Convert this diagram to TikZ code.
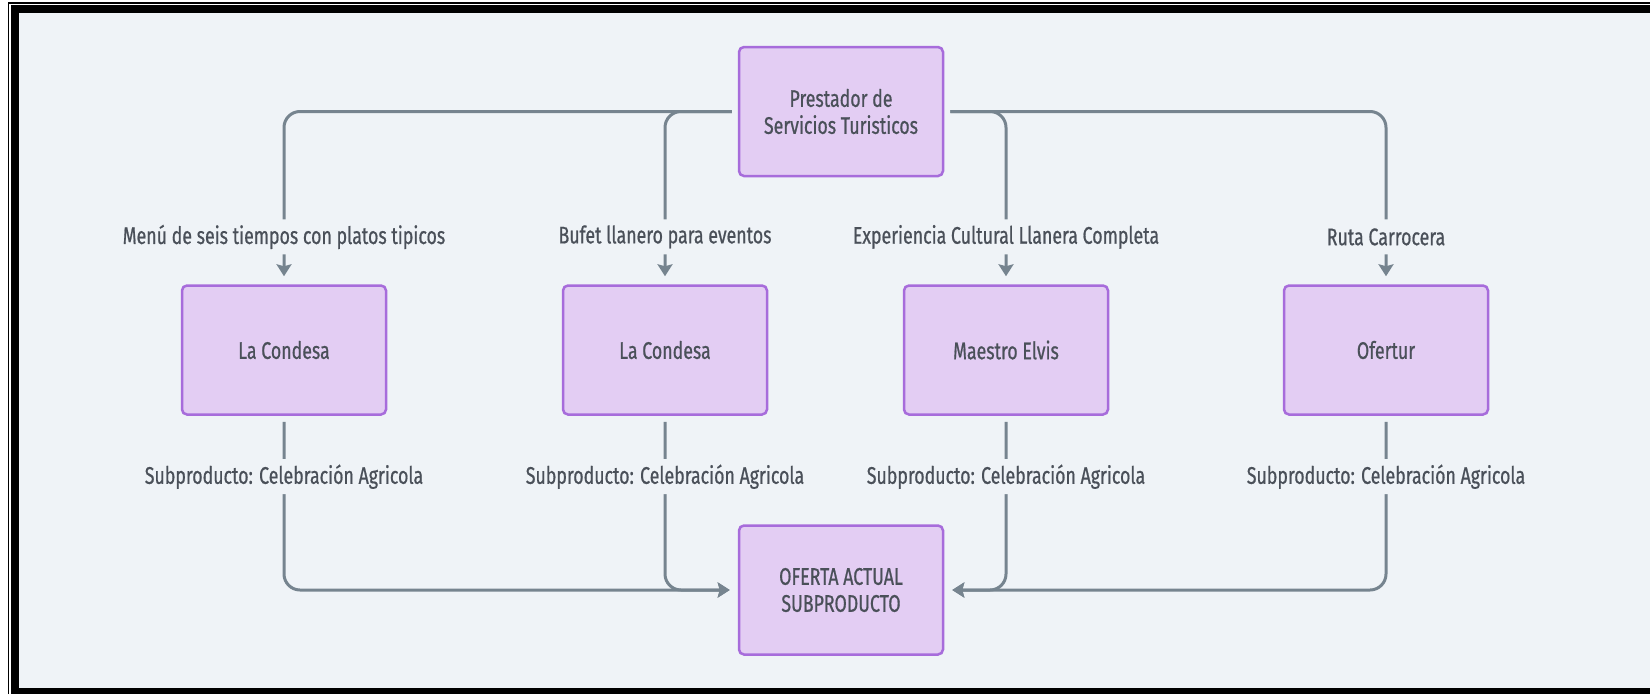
\documentclass[tikz,border=0pt]{standalone}
\usepackage{fontspec}
\setmainfont[FakeStretch=0.74, FakeBold=0.7]{Fira Sans}
\usepackage{xcolor}
\usepackage{tikz}
\usetikzlibrary{arrows.meta, positioning}
\definecolor{canvasbg}{HTML}{EFF3F7}
\definecolor{boxfill}{HTML}{E3CDF3}
\definecolor{boxline}{HTML}{A76CDB}
\definecolor{linkgray}{HTML}{76848F}
\definecolor{textgray}{HTML}{4A5059}

\begin{document}
\begin{tikzpicture}[
  x=1pt, y=-1pt,
  every node/.style={font=\fontsize{24}{27}\selectfont, text=textgray},
  box/.style={
    rectangle, rounded corners=5pt,
    minimum width=204pt, minimum height=129pt,
    align=center, draw=boxline, line width=2.5pt,
    fill=boxfill,
  },
  link/.style={-{Stealth[length=12pt, width=15pt, inset=2pt]},
    line width=3pt, color=linkgray, rounded corners=16pt,
    shorten <=6pt, shorten >=8pt},
  lbl/.style={fill=canvasbg, inner sep=0pt, minimum height=35pt},
]

% frame
\useasboundingbox (0,0) rectangle (1650,694);
\fill[white] (0,0) rectangle (1650,694);
\draw[black, line width=1.5pt] (8.5,694) -- (8.5,3) -- (1650,3);
\fill[black] (11,5) rectangle (1650,694);
\fill[canvasbg] (19,13) rectangle (1650,688);

% Row 1 — provider
\node[box] (prest) at (841,111.5) {Prestador de\\Servicios Turisticos};

% Row 2 — operators
\node[box] (cond1) at (284,350) {La Condesa};
\node[box, right=174.5pt of cond1] (cond2) {La Condesa};
\node[box, right=134.5pt of cond2] (elvis) {Maestro Elvis};
\node[box, right=173.5pt of elvis] (ofertur) {Ofertur};

% Row 3 — offer
\node[box, below=347pt of prest] (oferta) {OFERTA ACTUAL\\SUBPRODUCTO};

% Arrows — provider to operators
\draw[link] (prest.west) -| (cond1.north)
  node[lbl, pos=0.863] {Menú de seis tiempos con platos tipicos};
\draw[link] (prest.west) -| (cond2.north)
  node[lbl, pos=0.863] {Bufet llanero para eventos};
\draw[link] (prest.east) -| (elvis.north)
  node[lbl, pos=0.863] {Experiencia Cultural Llanera Completa};
\draw[link] (prest.east) -| (ofertur.north)
  node[lbl, pos=0.863] {Ruta Carrocera};

% Arrows — operators to offer
\draw[link] (cond1.south) |- (oferta.west)
  node[lbl, pos=0.175] {Subproducto: Celebración Agricola};
\draw[link] (cond2.south) |- (oferta.west)
  node[lbl, pos=0.175] {Subproducto: Celebración Agricola};
\draw[link] (elvis.south) |- (oferta.east)
  node[lbl, pos=0.175] {Subproducto: Celebración Agricola};
\draw[link] (ofertur.south) |- (oferta.east)
  node[lbl, pos=0.175] {Subproducto: Celebración Agricola};

\end{tikzpicture}
\end{document}
